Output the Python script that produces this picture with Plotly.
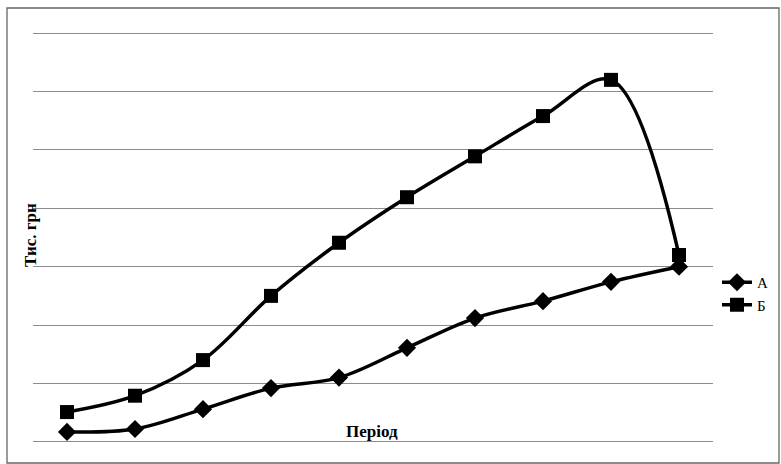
import plotly.graph_objects as go

periods = [1, 2, 3, 4, 5, 6, 7, 8, 9, 10]
series_a = [0.17, 0.22, 0.56, 0.92, 1.10, 1.61, 2.12, 2.41, 2.74, 3.00]
series_b = [0.51, 0.79, 1.40, 2.50, 3.41, 4.19, 4.89, 5.58, 6.20, 3.20]
name_a = "А"
name_b = "Б"
x_title = "Період"
y_title = "Тис. грн"

W, H = 781, 464
L, R, T, B = 33, 713, 32, 443
pw, ph = R - L, B - T

def px(xp):
    return (xp - L) / pw

def py(yp):
    return (B - yp) / ph

font_family = "Liberation Serif, Times New Roman, serif"

fig = go.Figure()
fig.add_trace(go.Scatter(
    x=periods, y=series_a, name=name_a, mode="lines+markers",
    line=dict(color="black", width=3.5, shape="spline", smoothing=1),
    marker=dict(symbol="diamond", size=14, color="black"),
    legendgroup="a",
))
fig.add_trace(go.Scatter(
    x=periods, y=series_b, name=name_b, mode="lines+markers",
    line=dict(color="black", width=3.5, shape="spline", smoothing=1),
    marker=dict(symbol="square", size=14, color="black"),
    legendgroup="b",
))

fig.update_layout(
    width=W, height=H,
    margin=dict(l=L, r=W - R, t=T, b=H - B, pad=0, autoexpand=False),
    paper_bgcolor="white", plot_bgcolor="white",
    font=dict(family=font_family, size=15, color="black"),
    showlegend=True,
    legend=dict(x=px(717), y=py(266), xanchor="left", yanchor="top",
                font=dict(size=15, family=font_family),
                tracegroupgap=0, itemwidth=30, bgcolor="rgba(0,0,0,0)"),
    xaxis=dict(range=[0.5, 10.5], showgrid=False, showticklabels=False,
               zeroline=False, showline=False, ticks=""),
    yaxis=dict(range=[-0.02, 7.02], dtick=1, tick0=0, showgrid=True,
               gridcolor="#8c8c8c", gridwidth=1.3, showticklabels=False,
               zeroline=True, zerolinecolor="#8c8c8c", zerolinewidth=1.3,
               showline=False, ticks=""),
    shapes=[dict(type="rect", xref="paper", yref="paper",
                 x0=px(7), x1=px(779), y0=py(463), y1=py(8),
                 line=dict(color="#666666", width=1.3), layer="below")],
    annotations=[
        dict(text=x_title, xref="paper", yref="paper", x=px(372), y=py(431),
             xanchor="center", yanchor="middle",
             showarrow=False, font=dict(size=17, family=font_family, weight="bold")),
        dict(text=y_title, xref="paper", yref="paper", x=px(31), y=py(235),
             xanchor="center", yanchor="middle",
             showarrow=False, textangle=-90,
             font=dict(size=17, family=font_family, weight="bold")),
    ],
)

fig.write_html("out.html", config={"displayModeBar": False},
               post_script="document.body.style.margin='0';")
